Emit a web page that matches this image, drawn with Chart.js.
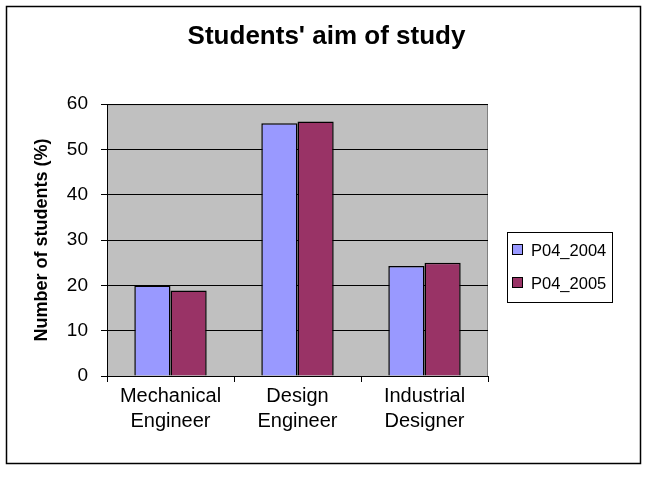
<!DOCTYPE html>
<html>
<head>
<meta charset="utf-8">
<script src="https://cdn.jsdelivr.net/npm/chart.js@4"></script>
<style>
  html, body { margin: 0; padding: 0; background: #fff; }
  .wrap { width: 645px; height: 477px; }
</style>
</head>
<body>
<div class="wrap"><canvas id="chart" width="645" height="477"></canvas></div>
<script>
const categories = [["Mechanical", "Engineer"], ["Design", "Engineer"], ["Industrial", "Designer"]];
const seriesNames = ["P04_2004", "P04_2005"];
const p04_2004 = [20, 55.8, 24.3];
const p04_2005 = [18.9, 56.2, 25];
const yTicks = [0, 10, 20, 30, 40, 50, 60];

const FONT = "'Liberation Sans', Arial, sans-serif";

// grey plot area + outer frame
const frame = {
    id: "frame",
    beforeDraw(chart) {
        const { ctx, chartArea: a } = chart;
        ctx.save();
        ctx.fillStyle = "#C0C0C0";
        ctx.fillRect(a.left, a.top, a.right - a.left, a.bottom - a.top);
        ctx.strokeStyle = "#808080";
        ctx.lineWidth = 1;
        ctx.beginPath();
        ctx.moveTo(a.left, a.top + 0.5);
        ctx.lineTo(a.right - 0.5, a.top + 0.5);
        ctx.lineTo(a.right - 0.5, a.bottom);
        ctx.stroke();
        ctx.restore();
    },
    afterDraw(chart) {
        const { ctx } = chart;
        ctx.save();
        ctx.strokeStyle = "#000";
        ctx.lineWidth = 1.5;
        ctx.strokeRect(6.5, 6.5, 634, 457);
        ctx.restore();
    },
};

// boxed legend at the right, like the spreadsheet one
const boxLegend = {
    id: "boxLegend",
    afterDraw(chart) {
        const { ctx } = chart;
        const x = 507, y = 232, w = 105, h = 70;
        ctx.save();
        ctx.fillStyle = "#fff";
        ctx.fillRect(x, y, w, h);
        ctx.strokeStyle = "#000";
        ctx.lineWidth = 1;
        ctx.strokeRect(x + 0.5, y + 0.5, w, h);
        ctx.font = "16.5px " + FONT;
        ctx.textBaseline = "middle";
        chart.data.datasets.forEach((ds, i) => {
            const cy = y + 18 + i * 33;
            ctx.fillStyle = ds.backgroundColor;
            ctx.fillRect(x + 5.5, cy - 5.5, 10, 10);
            ctx.strokeRect(x + 5.5, cy - 5.5, 10, 10);
            ctx.fillStyle = "#000";
            ctx.fillText(ds.label, x + 24, cy + 1);
        });
        ctx.restore();
    },
};

new Chart(document.getElementById("chart").getContext("2d"), {
    type: "bar",
    data: {
        labels: categories,
        datasets: [
            {
                label: seriesNames[0],
                data: p04_2004,
                backgroundColor: "#9999FF",
                borderColor: "#000",
                borderWidth: 1.5,
                categoryPercentage: 0.57,
                barPercentage: 1,
            },
            {
                label: seriesNames[1],
                data: p04_2005,
                backgroundColor: "#993366",
                borderColor: "#000",
                borderWidth: 1.5,
                categoryPercentage: 0.57,
                barPercentage: 1,
            },
        ],
    },
    options: {
        responsive: false,
        animation: false,
        layout: { padding: { left: 8, right: 0, top: 10, bottom: 40 } },
        scales: {
            x: {
                grid: {
                    display: true,
                    drawOnChartArea: false,
                    offset: true,
                    color: "#000",
                    tickLength: 6,
                },
                border: { color: "#000", width: 1 },
                ticks: {
                    color: "#000",
                    maxRotation: 0,
                    font: { family: FONT, size: 20, lineHeight: 1.25 },
                    padding: 2,
                },
                afterFit: (s) => { s.height = 61; },
            },
            y: {
                min: 0,
                max: 60,
                afterBuildTicks: (s) => { s.ticks = yTicks.map((v) => ({ value: v })); },
                grid: { color: "#000", tickLength: 6 },
                border: { color: "#000", width: 1 },
                ticks: {
                    color: "#000",
                    font: { family: FONT, size: 19 },
                    padding: 13,
                },
                title: {
                    display: true,
                    text: "Number of students (%)",
                    color: "#000",
                    font: { family: FONT, size: 18, weight: "bold" },
                    padding: { top: 23, bottom: 0 },
                },
                afterFit: (s) => { s.width = 99; },
            },
            // empty box on the right that keeps room for the legend
            spacer: {
                type: "linear",
                position: "right",
                display: true,
                grid: { display: false },
                border: { display: false },
                ticks: { display: false },
                afterFit: (s) => { s.width = 157; },
            },
        },
        plugins: {
            legend: { display: false },
            tooltip: { enabled: false },
            title: {
                display: true,
                text: "Students' aim of study",
                color: "#000",
                font: { family: FONT, size: 26, weight: "bold" },
                padding: { top: 11, bottom: 52 },
            },
        },
    },
    plugins: [frame, boxLegend],
});
</script>
</body>
</html>
